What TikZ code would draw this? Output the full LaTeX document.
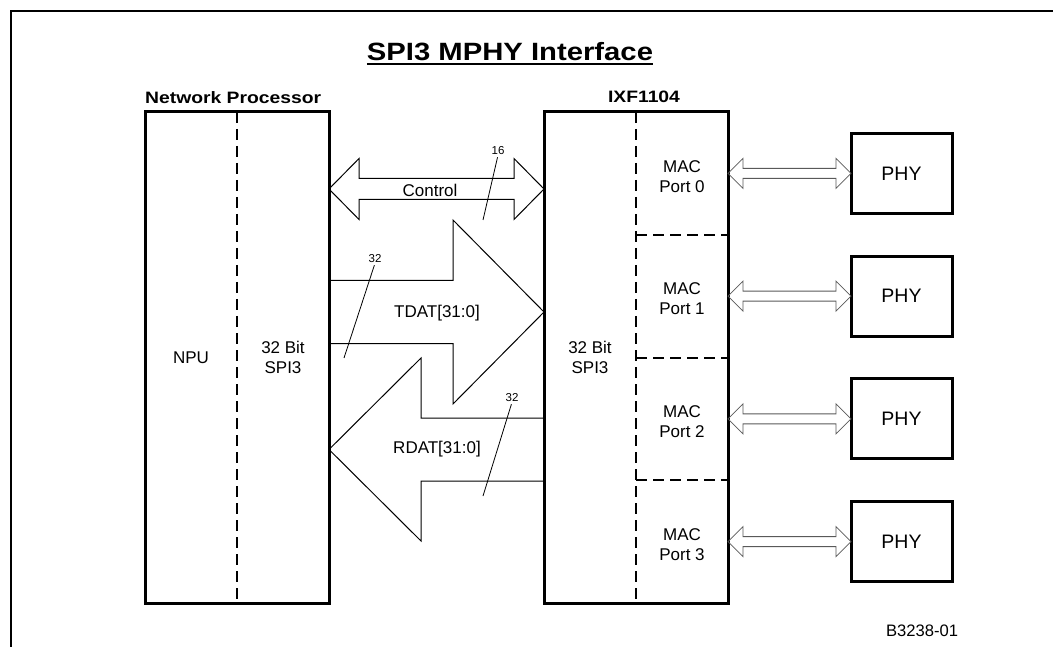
\documentclass[tikz,border=0pt]{standalone}
\usepackage{fontspec}
\setmainfont{Liberation Sans}
\newfontfamily\widebf{Liberation Sans Bold}[FakeStretch=1.17]
\usetikzlibrary{calc}
% hollow double arrow: style, left tip, right tip, shaft half, head half, head length
\newcommand\HollowDbl[6]{%
  \draw[#1] let \p1=(#2), \p2=(#3) in
    (\x1,\y1) -- (\x1+#6,\y1+#5) -- (\x1+#6,\y1+#4) -- (\x2-#6,\y1+#4) -- (\x2-#6,\y1+#5)
    -- (\x2,\y1) -- (\x2-#6,\y1-#5) -- (\x2-#6,\y1-#4) -- (\x1+#6,\y1-#4) -- (\x1+#6,\y1-#5) -- cycle;}
% hollow arrow to the right: style, tail, tip, shaft half, head half, head length
\newcommand\HollowRight[6]{%
  \draw[#1] let \p1=(#2), \p2=(#3) in
    (\x1,\y2+#4) -- (\x2-#6,\y2+#4) -- (\x2-#6,\y2+#5) -- (\x2,\y2)
    -- (\x2-#6,\y2-#5) -- (\x2-#6,\y2-#4) -- (\x1,\y2-#4);}
% hollow arrow to the left: style, tip, tail, shaft half, head half, head length
\newcommand\HollowLeft[6]{%
  \draw[#1] let \p1=(#2), \p2=(#3) in
    (\x2,\y1+#4) -- (\x1+#6,\y1+#4) -- (\x1+#6,\y1+#5) -- (\x1,\y1)
    -- (\x1+#6,\y1-#5) -- (\x1+#6,\y1-#4) -- (\x2,\y1-#4);}
\begin{document}
\begin{tikzpicture}[x=1pt,y=-1pt,
  box/.style={draw, line width=3pt, inner sep=0pt, outer sep=0pt},
  divider/.style={line width=2pt, dash pattern=on 11pt off 6pt},
  bigarrow/.style={line width=1pt, line join=miter},
  phyarrow/.style={draw=black!65, line width=0.8pt, line join=miter},
  lbl/.style={font=\fontsize{17}{20}\selectfont, align=center, inner sep=0pt},
  phylbl/.style={font=\fontsize{19.5}{22}\selectfont},
  hdr/.style={font=\widebf\fontsize{16.5}{19}\selectfont, inner sep=0pt},
  num/.style={font=\fontsize{11.5}{13}\selectfont, inner sep=0pt},
  slash/.style={line width=0.8pt},
  framestyle/.style={line width=2.5pt}]
\useasboundingbox (0,0) rectangle (1053,647);
\draw[framestyle] (11,647) -- (11,11) -- (1053,11);

% title
\node[font=\widebf\fontsize{25}{30}\selectfont, inner sep=0pt, anchor=base] (title) at (510,61) {SPI3 MPHY Interface};
\draw[line width=2pt] ([yshift=-3pt]title.base west) -- ([yshift=-3pt]title.base east);

% main boxes
\node[box, minimum width=184, minimum height=491] (npu) at (237,357.5) {};
\node[box, minimum width=184, minimum height=491] (ixf) at (636,357.5) {};
\draw[divider] (npu.north) -- (npu.south);
\draw[divider] (ixf.north) -- (ixf.south);
\foreach \i in {1,2,3}
  \draw[divider] ($(ixf.north)!\i/4!(ixf.south)$) -- ($(ixf.north east)!\i/4!(ixf.south east)$);

\node[hdr, anchor=base west] (nplbl) at ($(npu.north west)+(0,-8)$) {Network Processor};
\node[hdr, anchor=base] (ixflbl) at (644,103) {IXF1104};

\node[lbl] (npulbl) at ($(npu.west)!0.5!(npu.center)$) {NPU};
\node[lbl] (npuspi) at ($(npu.center)!0.5!(npu.east)$) {32 Bit\\SPI3};
\node[lbl] (ixfspi) at ($(ixf.west)!0.5!(ixf.center)$) {32 Bit\\SPI3};

\coordinate (mt) at ($(ixf.north)!0.5!(ixf.north east)$);
\coordinate (mb) at ($(ixf.south)!0.5!(ixf.south east)$);
\foreach \i/\f in {0/0.125,1/0.375,2/0.625,3/0.875}{
  \node[lbl] (mac\i) at ($(mt)!\f!(mb)+(0,3)$) {MAC\\Port \i};
  \node[box, phylbl, minimum width=101, minimum height=80] (phy\i) at ($(mt)!\f!(mb)+(219.5,0)$) {PHY};
  \HollowDbl{phyarrow}{ixf.east |- phy\i.west}{phy\i.west}{5pt}{15pt}{15pt}
}

% control bus
\HollowDbl{bigarrow}{$(npu.north east)+(0,77)$}{$(ixf.north west)+(0,77)$}{10.5pt}{30.5pt}{30pt}
\node[lbl] (ctl) at (430,190) {Control};
\node[num] (n16) at (498,151) {16};
\coordinate (e16) at (483,220);
\draw[slash, shorten <=2pt] (n16.south) -- (e16);

% TDAT
\HollowRight{bigarrow}{$(npu.north east)+(0,200)$}{$(ixf.north west)+(0,200)$}{31.5pt}{92pt}{91pt}
\node[lbl] (tdat) at (437,313) {TDAT[31:0]};
\node[num] (n32t) at (375,259) {32};
\coordinate (e32t) at (344,358);
\draw[slash, shorten <=2pt] (n32t.south) -- (e32t);

% RDAT
\HollowLeft{bigarrow}{$(npu.north east)+(0,337.5)$}{$(ixf.north west)+(0,337.5)$}{31.5pt}{91.5pt}{92pt}
\node[lbl] (rdat) at (437,449) {RDAT[31:0]};
\node[num] (n32r) at (512,398) {32};
\coordinate (e32r) at (483,496);
\draw[slash, shorten <=2pt] (n32r.south) -- (e32r);

\node[font=\fontsize{16.6}{20}\selectfont, anchor=base, inner sep=0pt] (code) at (922,636) {B3238-01};
\end{tikzpicture}
\end{document}
